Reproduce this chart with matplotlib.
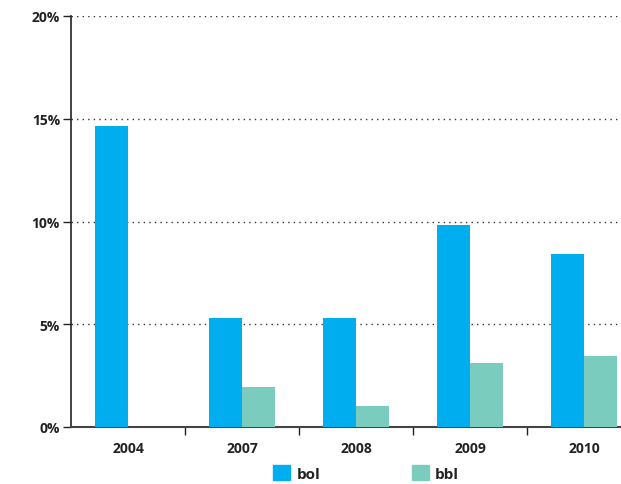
import numpy as np
import matplotlib.pyplot as plt
from matplotlib.patches import Patch

years = ['2004', '2007', '2008', '2009', '2010']
bol = [14.65, 5.3, 5.3, 9.85, 8.4]
bbl = [0.0, 1.95, 1.0, 3.1, 3.45]

c_bol = '#00aeef'
c_bbl = '#7accbf'

plt.rcParams['font.family'] = ['Open Sans', 'DejaVu Sans']

fig = plt.figure(figsize=(6.21, 4.85), dpi=100)
ax = fig.add_axes([71 / 621, 57 / 485, 570 / 621, 411 / 485])

x = np.arange(len(years))
w = 0.29
ax.bar(x - w / 2, bol, w, color=c_bol, edgecolor='none', zorder=3)
ax.bar(x + w / 2, bbl, w, color=c_bbl, edgecolor='none', zorder=3)

ax.set_xlim(-0.5, len(years) - 0.5)
ax.set_ylim(0, 20)
ax.set_yticks([0, 5, 10, 15, 20])
ax.set_yticklabels(['0%', '5%', '10%', '15%', '20%'], fontsize=10, fontweight='bold', color='#222222')
ax.set_xticks(x)
ax.set_xticklabels(years, fontsize=10, fontweight='bold', color='#222222')
ax.set_xticks(np.arange(0.5, len(years) - 0.5, 1), minor=True)
ax.tick_params(axis='x', which='major', length=0, pad=10)
ax.tick_params(axis='x', which='minor', length=6, width=1, color='#222222', direction='out')
ax.tick_params(axis='y', length=6, width=1, color='#222222', direction='out', pad=2)

for v in [5, 10, 15, 20]:
    ax.axhline(v, color='#333333', lw=1, ls=(0, (1, 3)), zorder=1)

for s in ['top', 'right']:
    ax.spines[s].set_visible(False)
ax.spines['left'].set_color('#222222')
ax.spines['left'].set_linewidth(1.2)
ax.spines['bottom'].set_color('#444444')
ax.spines['bottom'].set_linewidth(1.5)

handles = [Patch(color=c_bol, label='bol'), Patch(color=c_bbl, label='bbl')]
leg = fig.legend(handles=handles, loc='center', bbox_to_anchor=(366 / 621, 1 - 474 / 485),
                 ncol=2, frameon=False, handlelength=1.1, handleheight=1.1,
                 handletextpad=0.4, columnspacing=6.0,
                 prop={'size': 11, 'weight': 'bold'})
for t in leg.get_texts():
    t.set_color('#222222')

fig.savefig('out.png', dpi=100)
